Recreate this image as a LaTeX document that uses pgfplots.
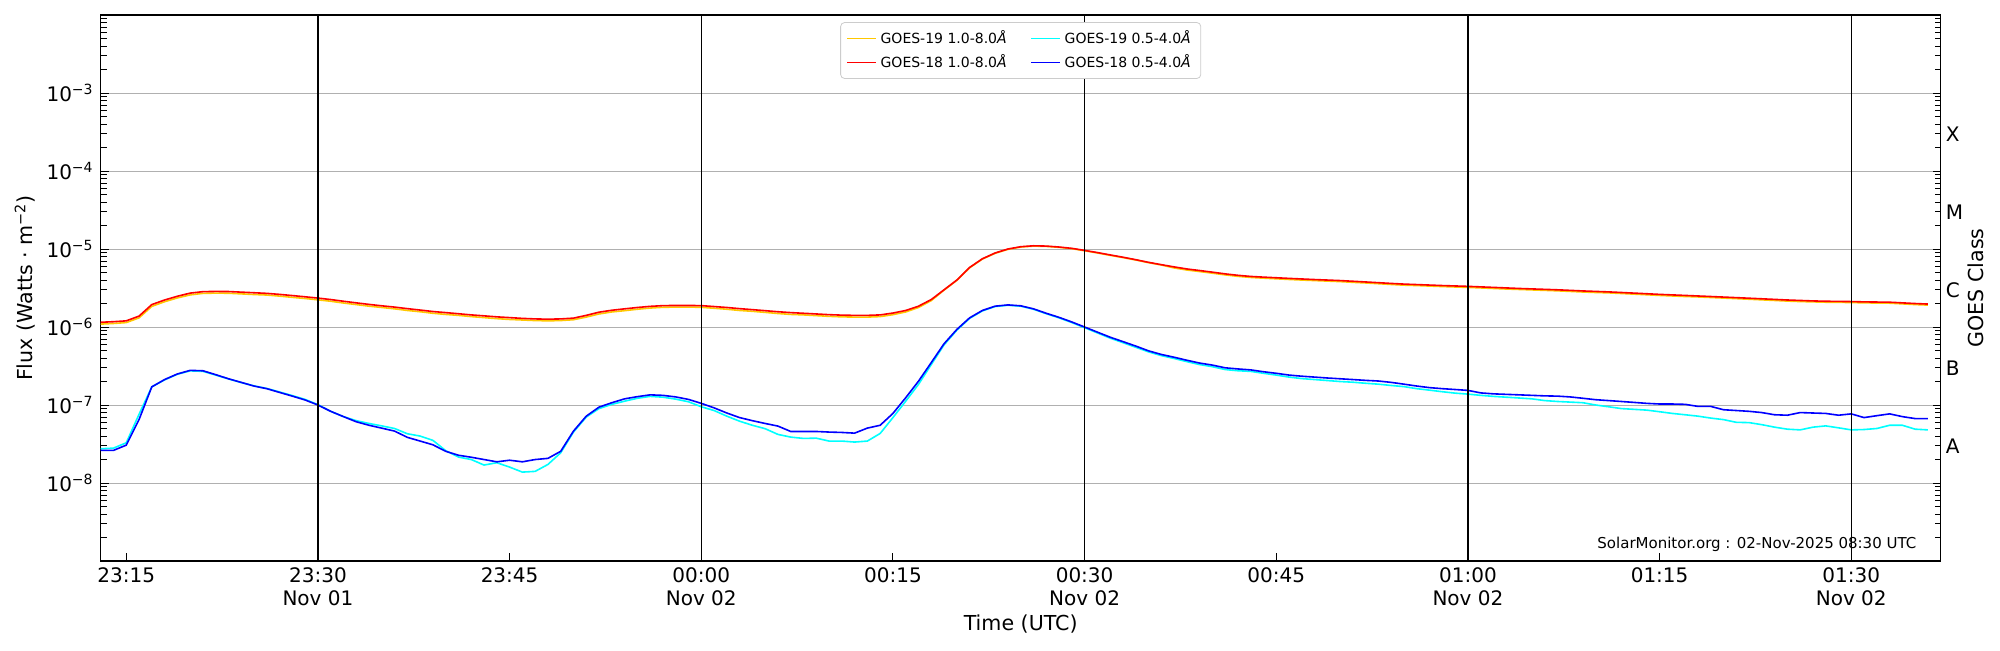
\documentclass[border=0pt]{standalone}
\usepackage{fontspec}
\setmainfont{DejaVu Sans}
\usepackage{pgfplots}
\pgfplotsset{compat=1.18}
\usepackage{pgfplotstable}
\definecolor{goldline}{RGB}{255,200,0}
\definecolor{redline}{RGB}{255,0,0}
\definecolor{cyanline}{RGB}{0,255,255}
\definecolor{blueline}{RGB}{0,0,255}
\definecolor{gridgray}{RGB}{176,176,176}
\definecolor{leggray}{RGB}{204,204,204}

\pgfplotstableread{
t g19l g18l g19s g18s
13 1.09e-6 1.15e-6 2.75e-8 2.62e-8
14 1.11e-6 1.17e-6 2.8e-8 2.62e-8
15 1.14e-6 1.2e-6 3.28e-8 3.06e-8
16 1.31e-6 1.38e-6 7.6e-8 6.5e-8
17 1.84e-6 1.94e-6 1.71e-7 1.71e-7
18 2.11e-6 2.22e-6 2.1e-7 2.12e-7
19 2.36e-6 2.48e-6 2.48e-7 2.5e-7
20 2.58e-6 2.72e-6 2.74e-7 2.78e-7
21 2.7e-6 2.84e-6 2.7e-7 2.75e-7
22 2.72e-6 2.86e-6 2.42e-7 2.45e-7
23 2.71e-6 2.85e-6 2.16e-7 2.17e-7
24 2.66e-6 2.8e-6 1.94e-7 1.95e-7
25 2.61e-6 2.75e-6 1.76e-7 1.75e-7
26 2.57e-6 2.7e-6 1.63e-7 1.62e-7
27 2.49e-6 2.62e-6 1.47e-7 1.45e-7
28 2.4e-6 2.53e-6 1.32e-7 1.3e-7
29 2.32e-6 2.44e-6 1.18e-7 1.16e-7
30 2.23e-6 2.35e-6 1.01e-7 1.0e-7
31 2.14e-6 2.25e-6 8.3e-8 8.3e-8
32 2.03e-6 2.14e-6 7.1e-8 7.1e-8
33 1.94e-6 2.04e-6 6.3e-8 6.1e-8
34 1.85e-6 1.95e-6 5.8e-8 5.5e-8
35 1.78e-6 1.87e-6 5.4e-8 5.05e-8
36 1.71e-6 1.8e-6 5.0e-8 4.63e-8
37 1.63e-6 1.72e-6 4.28e-8 3.85e-8
38 1.57e-6 1.65e-6 4.0e-8 3.45e-8
39 1.5e-6 1.58e-6 3.52e-8 3.09e-8
40 1.45e-6 1.53e-6 2.6e-8 2.55e-8
41 1.41e-6 1.48e-6 2.15e-8 2.27e-8
42 1.36e-6 1.43e-6 2.0e-8 2.14e-8
43 1.32e-6 1.39e-6 1.7e-8 2.0e-8
44 1.28e-6 1.35e-6 1.82e-8 1.87e-8
45 1.25e-6 1.32e-6 1.6e-8 1.96e-8
46 1.23e-6 1.29e-6 1.38e-8 1.87e-8
47 1.21e-6 1.27e-6 1.41e-8 2.0e-8
48 1.2e-6 1.26e-6 1.73e-8 2.07e-8
49 1.21e-6 1.27e-6 2.44e-8 2.55e-8
50 1.24e-6 1.3e-6 4.5e-8 4.63e-8
51 1.34e-6 1.41e-6 7.0e-8 7.2e-8
52 1.47e-6 1.55e-6 9.0e-8 9.4e-8
53 1.56e-6 1.64e-6 1.02e-7 1.07e-7
54 1.62e-6 1.71e-6 1.12e-7 1.2e-7
55 1.69e-6 1.78e-6 1.22e-7 1.28e-7
56 1.75e-6 1.84e-6 1.29e-7 1.35e-7
57 1.79e-6 1.88e-6 1.26e-7 1.33e-7
58 1.8e-6 1.89e-6 1.19e-7 1.27e-7
59 1.8e-6 1.89e-6 1.1e-7 1.18e-7
60 1.79e-6 1.88e-6 9.5e-8 1.05e-7
61 1.74e-6 1.83e-6 8.5e-8 9.2e-8
62 1.69e-6 1.78e-6 7.2e-8 7.9e-8
63 1.63e-6 1.72e-6 6.2e-8 6.9e-8
64 1.59e-6 1.67e-6 5.5e-8 6.3e-8
65 1.54e-6 1.62e-6 4.97e-8 5.8e-8
66 1.49e-6 1.57e-6 4.2e-8 5.37e-8
67 1.45e-6 1.53e-6 3.88e-8 4.58e-8
68 1.43e-6 1.5e-6 3.73e-8 4.58e-8
69 1.4e-6 1.47e-6 3.76e-8 4.58e-8
70 1.37e-6 1.44e-6 3.45e-8 4.5e-8
71 1.35e-6 1.42e-6 3.45e-8 4.45e-8
72 1.34e-6 1.41e-6 3.35e-8 4.36e-8
73 1.34e-6 1.41e-6 3.45e-8 5.06e-8
74 1.36e-6 1.43e-6 4.32e-8 5.5e-8
75 1.44e-6 1.51e-6 6.9e-8 7.8e-8
76 1.56e-6 1.63e-6 1.12e-7 1.24e-7
77 1.78e-6 1.85e-6 1.84e-7 2.02e-7
78 2.18e-6 2.25e-6 3.3e-7 3.5e-7
79 2.97e-6 3.0e-6 5.9e-7 6.1e-7
80 3.96e-6 4.0e-6 9.1e-7 9.3e-7
81 5.74e-6 5.8e-6 1.29e-6 1.31e-6
82 7.43e-6 7.5e-6 1.61e-6 1.63e-6
83 8.81e-6 8.9e-6 1.83e-6 1.85e-6
84 9.9e-6 1.0e-5 1.9e-6 1.92e-6
85 1.06e-5 1.07e-5 1.85e-6 1.87e-6
86 1.09e-5 1.1e-5 1.69e-6 1.71e-6
87 1.08e-5 1.09e-5 1.48e-6 1.5e-6
88 1.05e-5 1.06e-5 1.31e-6 1.33e-6
89 1.01e-5 1.02e-5 1.14e-6 1.16e-6
90 9.5e-6 9.6e-6 9.8e-7 1.0e-6
91 8.9e-6 9.0e-6 8.4e-7 8.6e-7
92 8.3e-6 8.4e-6 7.2e-7 7.4e-7
93 7.77e-6 7.85e-6 6.3e-7 6.5e-7
94 7.23e-6 7.3e-6 5.5e-7 5.7e-7
95 6.68e-6 6.75e-6 4.8e-7 4.95e-7
96 6.24e-6 6.3e-6 4.3e-7 4.45e-7
97 5.72e-6 5.9e-6 3.95e-7 4.1e-7
98 5.38e-6 5.55e-6 3.6e-7 3.75e-7
99 5.14e-6 5.3e-6 3.3e-7 3.45e-7
100 4.9e-6 5.05e-6 3.1e-7 3.25e-7
101 4.66e-6 4.8e-6 2.85e-7 3.0e-7
102 4.46e-6 4.6e-6 2.75e-7 2.9e-7
103 4.32e-6 4.45e-6 2.7e-7 2.82e-7
104 4.23e-6 4.36e-6 2.55e-7 2.67e-7
105 4.15e-6 4.28e-6 2.42e-7 2.55e-7
106 4.07e-6 4.2e-6 2.28e-7 2.42e-7
107 4.0e-6 4.13e-6 2.18e-7 2.34e-7
108 3.94e-6 4.06e-6 2.12e-7 2.28e-7
109 3.88e-6 4.0e-6 2.06e-7 2.22e-7
110 3.82e-6 3.94e-6 2.0e-7 2.17e-7
111 3.74e-6 3.86e-6 1.96e-7 2.12e-7
112 3.67e-6 3.78e-6 1.9e-7 2.07e-7
113 3.59e-6 3.7e-6 1.85e-7 2.03e-7
114 3.51e-6 3.62e-6 1.78e-7 1.95e-7
115 3.44e-6 3.55e-6 1.72e-7 1.85e-7
116 3.4e-6 3.5e-6 1.62e-7 1.75e-7
117 3.35e-6 3.45e-6 1.55e-7 1.67e-7
118 3.3e-6 3.4e-6 1.48e-7 1.62e-7
119 3.26e-6 3.36e-6 1.42e-7 1.58e-7
120 3.22e-6 3.32e-6 1.38e-7 1.54e-7
121 3.17e-6 3.27e-6 1.33e-7 1.43e-7
122 3.12e-6 3.22e-6 1.29e-7 1.39e-7
123 3.07e-6 3.17e-6 1.26e-7 1.37e-7
124 3.03e-6 3.12e-6 1.23e-7 1.35e-7
125 2.99e-6 3.08e-6 1.2e-7 1.33e-7
126 2.95e-6 3.04e-6 1.14e-7 1.31e-7
127 2.91e-6 3.0e-6 1.11e-7 1.3e-7
128 2.86e-6 2.95e-6 1.09e-7 1.27e-7
129 2.81e-6 2.9e-6 1.07e-7 1.22e-7
130 2.77e-6 2.86e-6 1.0e-7 1.17e-7
131 2.74e-6 2.82e-6 9.5e-8 1.14e-7
132 2.69e-6 2.77e-6 9.0e-8 1.11e-7
133 2.64e-6 2.72e-6 8.8e-8 1.08e-7
134 2.59e-6 2.67e-6 8.6e-8 1.05e-7
135 2.54e-6 2.62e-6 8.2e-8 1.03e-7
136 2.5e-6 2.58e-6 7.8e-8 1.03e-7
137 2.46e-6 2.54e-6 7.5e-8 1.02e-7
138 2.43e-6 2.5e-6 7.2e-8 9.6e-8
139 2.39e-6 2.46e-6 6.8e-8 9.6e-8
140 2.35e-6 2.42e-6 6.5e-8 8.7e-8
141 2.31e-6 2.38e-6 6.0e-8 8.5e-8
142 2.27e-6 2.34e-6 5.95e-8 8.3e-8
143 2.23e-6 2.3e-6 5.6e-8 8.0e-8
144 2.19e-6 2.26e-6 5.2e-8 7.5e-8
145 2.15e-6 2.22e-6 4.9e-8 7.4e-8
146 2.12e-6 2.19e-6 4.8e-8 8.0e-8
147 2.1e-6 2.16e-6 5.2e-8 7.9e-8
148 2.08e-6 2.14e-6 5.4e-8 7.8e-8
149 2.07e-6 2.13e-6 5.1e-8 7.4e-8
150 2.06e-6 2.12e-6 4.8e-8 7.7e-8
151 2.04e-6 2.1e-6 4.85e-8 6.9e-8
152 2.03e-6 2.09e-6 5.0e-8 7.3e-8
153 2.02e-6 2.08e-6 5.5e-8 7.7e-8
154 1.98e-6 2.04e-6 5.5e-8 7.1e-8
155 1.94e-6 2.0e-6 4.9e-8 6.7e-8
156 1.91e-6 1.97e-6 4.8e-8 6.7e-8
}\goesdata

\begin{document}
\begin{tikzpicture}
\begin{axis}[
  name=ax,
  scale only axis,
  width=920pt, height=273pt,
  xmin=13, xmax=157,
  ymode=log, ymin=1e-9, ymax=1e-2,
  xtick={15,30,45,60,75,90,105,120,135,150},
  xticklabels={23:15,{23:30\\Nov 01},23:45,{00:00\\Nov 02},00:15,{00:30\\Nov 02},00:45,{01:00\\Nov 02},01:15,{01:30\\Nov 02}},
  xtick pos=bottom, ytick pos=both,
  ytick={1e-9,1e-8,1e-7,1e-6,1e-5,1e-4,1e-3,1e-2},
  yticklabels={{},{10\textsuperscript{−8}},{10\textsuperscript{−7}},{10\textsuperscript{−6}},{10\textsuperscript{−5}},{10\textsuperscript{−4}},{10\textsuperscript{−3}},{}},
  minor ytick={2e-9,3e-9,4e-9,5e-9,6e-9,7e-9,8e-9,9e-9,
    2e-8,3e-8,4e-8,5e-8,6e-8,7e-8,8e-8,9e-8,
    2e-7,3e-7,4e-7,5e-7,6e-7,7e-7,8e-7,9e-7,
    2e-6,3e-6,4e-6,5e-6,6e-6,7e-6,8e-6,9e-6,
    2e-5,3e-5,4e-5,5e-5,6e-5,7e-5,8e-5,9e-5,
    2e-4,3e-4,4e-4,5e-4,6e-4,7e-4,8e-4,9e-4,
    2e-3,3e-3,4e-3,5e-3,6e-3,7e-3,8e-3,9e-3},
  tick align=inside,
  major tick length=4pt, minor tick length=3pt,
  every tick/.style={black, line width=0.5pt},
  ymajorgrids, major grid style={color=gridgray, line width=0.5pt},
  axis line style={line width=0.6pt},
  tick label style={font=\fontsize{10}{11.2}\selectfont},
  xticklabel style={align=center},
  legend columns=2, transpose legend,
  legend cell align=left,
  legend image code/.code={\draw[#1, line width=0.5pt] (0pt,0pt) -- (14.5pt,0pt);},
  legend style={at={(0.5,0.987)}, anchor=north, draw=leggray, rounded corners=2pt,
    fill=white, font=\fontsize{7}{8.4}\selectfont,
    /tikz/every even column/.append style={column sep=10pt}},
]
\addplot[goldline, line width=0.8pt] table[x=t, y=g19l] {\goesdata};
\addlegendentry{GOES-19 1.0-8.0{\itshape Å}}
\addplot[redline, line width=0.8pt] table[x=t, y=g18l] {\goesdata};
\addlegendentry{GOES-18 1.0-8.0{\itshape Å}}
\addplot[cyanline, line width=0.8pt] table[x=t, y=g19s] {\goesdata};
\addlegendentry{GOES-19 0.5-4.0{\itshape Å}}
\addplot[blueline, line width=0.8pt] table[x=t, y=g18s] {\goesdata};
\addlegendentry{GOES-18 0.5-4.0{\itshape Å}}
\draw[black, line width=0.6pt] (axis cs:30,1e-9) -- (axis cs:30,1e-2);
\draw[black, line width=0.6pt] (axis cs:60,1e-9) -- (axis cs:60,1e-2);
\draw[black, line width=0.6pt] (axis cs:90,1e-9) -- (axis cs:90,1e-2);
\draw[black, line width=0.6pt] (axis cs:120,1e-9) -- (axis cs:120,1e-2);
\draw[black, line width=0.6pt] (axis cs:150,1e-9) -- (axis cs:150,1e-2);
\end{axis}
\begin{scope}[every node/.style={font=\fontsize{10.3}{12}\selectfont}]
\node[rotate=90] at ([xshift=-37.8pt]ax.west) {Flux (Watts · m\textsuperscript{−2})};
\node[rotate=90] at ([xshift=17.6pt]ax.east) {GOES Class};
\node at ([yshift=-31.3pt]ax.south) {Time (UTC)};
\end{scope}
\begin{scope}[every node/.style={font=\fontsize{10}{12}\selectfont}]
\node[anchor=west, inner sep=0pt] at ([xshift=2.4pt,yshift=57.5pt]ax.south east) {A};
\node[anchor=west, inner sep=0pt] at ([xshift=2.4pt,yshift=96.5pt]ax.south east) {B};
\node[anchor=west, inner sep=0pt] at ([xshift=2.4pt,yshift=135.5pt]ax.south east) {C};
\node[anchor=west, inner sep=0pt] at ([xshift=2.4pt,yshift=174.5pt]ax.south east) {M};
\node[anchor=west, inner sep=0pt] at ([xshift=2.4pt,yshift=213.5pt]ax.south east) {X};
\end{scope}
\node[anchor=base east, inner sep=0pt, font=\fontsize{7.5}{9}\selectfont] at ([xshift=-12pt,yshift=6.1pt]ax.south east) {SolarMonitor.org : 02-Nov-2025 08:30 UTC};
\pgfresetboundingbox
\path[use as bounding box] ([xshift=-50.35pt,yshift=-44.5pt]ax.south west) rectangle ([xshift=29.65pt,yshift=7.5pt]ax.north east);
\end{tikzpicture}
\end{document}
